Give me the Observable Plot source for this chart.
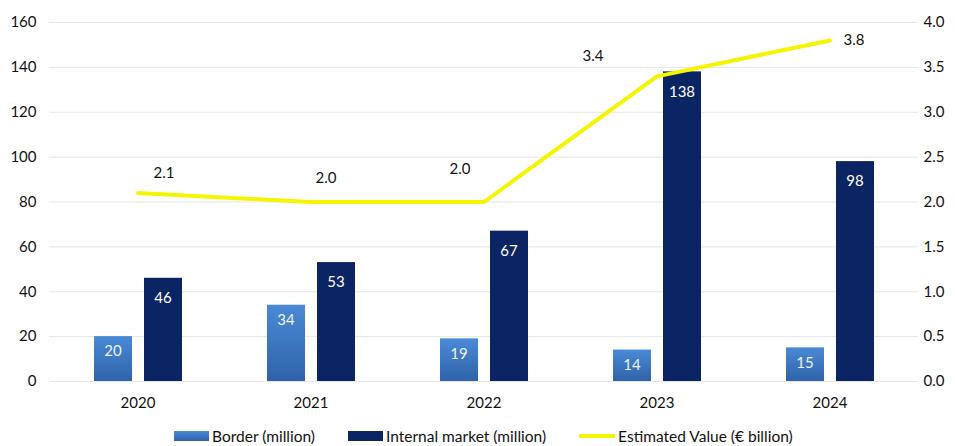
<!DOCTYPE html>
<html>
<head>
<meta charset="utf-8">
<script src="https://cdn.jsdelivr.net/npm/d3@7"></script>
<script src="https://cdn.jsdelivr.net/npm/@observablehq/plot@0.6"></script>
<style>
  body { margin: 0; background: #fff; font-family: Lato, "Open Sans", sans-serif; }
  #legend { display: flex; justify-content: flex-start; font-size: 15.5px; color: #111; margin-top: 13px; padding-left: 174px; line-height: 16px; }
  #legend .item { display: flex; align-items: center; gap: 3px; }
  #legend .sw { width: 35px; height: 10px; }
</style>
</head>
<body>
<div id="chart"></div>
<div id="legend"></div>
<script>
const years = ["2020", "2021", "2022", "2023", "2024"];
const border = [20, 34, 19, 14, 15];
const internal = [46, 53, 67, 138, 98];
const estValue = [2.1, 2.0, 2.0, 3.4, 3.8];
const leftTicks = [0, 20, 40, 60, 80, 100, 120, 140, 160];
const seriesNames = ["Border (million)", "Internal market (million)", "Estimated Value (€ billion)"];

const RATIO = 40; // right axis 4.0 <-> left axis 160
const rows = years.map((y, i) => ({year: y, border: border[i], internal: internal[i], est: estValue[i], estScaled: estValue[i] * RATIO}));

const navy = "#0b2463";
const yellow = "#f5f500";
const labelOffsets = [[26, -20], [15, -24], [-24, -33], [-64, -20], [24, 0]];

const plot = Plot.plot({
  width: 955,
  height: 415,
  marginLeft: 49,
  marginRight: 37,
  marginTop: 22,
  marginBottom: 34,
  style: {fontFamily: "Lato, 'Open Sans', sans-serif", fontSize: "15px", color: "#111"},
  x: {domain: years, padding: 0, label: null},
  y: {domain: [0, 160], label: null},
  marks: [
    Plot.gridY(leftTicks, {stroke: "#e6e6e6", strokeOpacity: 1}),
    Plot.axisY(leftTicks, {anchor: "left", tickSize: 0, tickPadding: 13, label: null, fontSize: 15}),
    Plot.axisY(leftTicks, {anchor: "right", tickSize: 0, tickPadding: 5, label: null, fontSize: 15, tickFormat: d => (d / RATIO).toFixed(1)}),
    Plot.axisX({tickSize: 0, tickPadding: 16, label: null, fontSize: 15}),
    Plot.barY(rows, {x: "year", y: "border", fill: "url(#borderGrad)", insetLeft: 43, insetRight: 92}),
    Plot.barY(rows, {x: "year", y: "internal", fill: navy, insetLeft: 93, insetRight: 42}),
    Plot.text(rows, {x: "year", y: "border", text: d => String(d.border), dx: -25, dy: 15, fill: "#eef3fb", fontSize: 15}),
    Plot.text(rows, {x: "year", y: "internal", text: d => String(d.internal), dx: 25, dy: 20, fill: "#ffffff", fontSize: 15}),
    Plot.line(rows, {x: "year", y: "estScaled", stroke: yellow, strokeWidth: 4}),
    ...rows.map((r, i) => Plot.text([r], {x: "year", y: "estScaled", text: d => d.est.toFixed(1), dx: labelOffsets[i][0], dy: labelOffsets[i][1], fill: "#111", fontSize: 15}))
  ]
});

// gradient for border bars
const defs = d3.select(plot).insert("defs", ":first-child");
const g = defs.append("linearGradient").attr("id", "borderGrad").attr("x1", 0).attr("y1", 0).attr("x2", 0).attr("y2", 1);
g.append("stop").attr("offset", "0%").attr("stop-color", "#4a8ad6");
g.append("stop").attr("offset", "100%").attr("stop-color", "#2f63a9");
document.getElementById("chart").appendChild(plot);

// legend
const legend = d3.select("#legend");
const it1 = legend.append("div").attr("class", "item");
it1.append("div").attr("class", "sw").style("background", "linear-gradient(#4a8ad6, #2f63a9)");
it1.append("span").text(seriesNames[0]);
const it2 = legend.append("div").attr("class", "item").style("margin-left", "33px");
it2.append("div").attr("class", "sw").style("background", navy);
it2.append("span").text(seriesNames[1]);
const it3 = legend.append("div").attr("class", "item").style("margin-left", "33px");
it3.append("div").attr("class", "sw").style("background", yellow).style("height", "4px").style("width", "36px");
it3.append("span").text(seriesNames[2]);
</script>
</body>
</html>
